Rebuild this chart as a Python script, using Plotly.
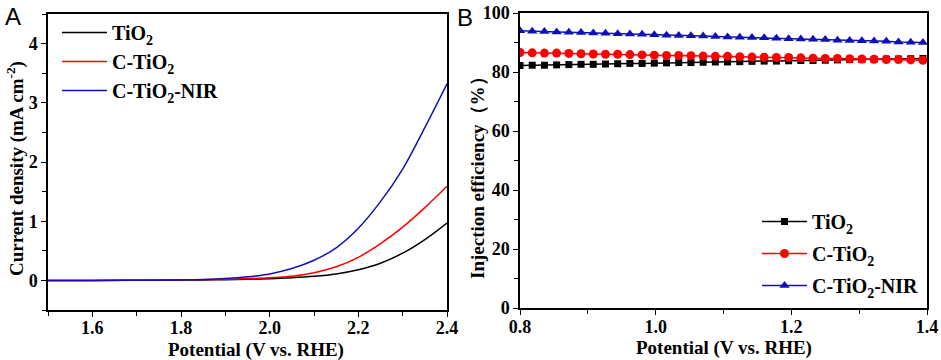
import plotly.graph_objects as go

# ---------- Panel A data ----------
potA = [1.50, 1.60, 1.70, 1.80, 1.85, 1.90, 1.95, 2.00, 2.05, 2.10, 2.15, 2.20, 2.25, 2.30, 2.35, 2.40]
j_tio2 = [0.0, 0.0, 0.003, 0.006, 0.008, 0.012, 0.018, 0.028, 0.045, 0.07, 0.11, 0.18, 0.29, 0.46, 0.69, 0.97]
j_ctio2 = [0.0, 0.0, 0.004, 0.008, 0.012, 0.02, 0.03, 0.045, 0.07, 0.13, 0.23, 0.39, 0.62, 0.90, 1.23, 1.59]
j_nir = [0.0, 0.0, 0.003, 0.008, 0.015, 0.03, 0.06, 0.11, 0.20, 0.34, 0.55, 0.88, 1.33, 1.88, 2.58, 3.32]

# ---------- Panel B data ----------
potB = [0.800, 0.818, 0.836, 0.854, 0.872, 0.890, 0.908, 0.926, 0.944, 0.962, 0.980, 0.998,
        1.016, 1.034, 1.052, 1.070, 1.088, 1.106, 1.124, 1.142, 1.160, 1.178, 1.196, 1.214,
        1.232, 1.250, 1.268, 1.286, 1.304, 1.322, 1.340, 1.358, 1.376, 1.394]
eff_tio2 = [82.2, 82.3, 82.3, 82.4, 82.5, 82.6, 82.6, 82.7, 82.8, 82.9, 82.9, 83.0, 83.1, 83.2, 83.2, 83.3, 83.4,
            83.4, 83.5, 83.6, 83.7, 83.7, 83.8, 83.9, 83.9, 84.0, 84.1, 84.2, 84.2, 84.3, 84.4, 84.4, 84.5, 84.6]
eff_ctio2 = [86.6, 86.5, 86.4, 86.4, 86.3, 86.2, 86.1, 86.0, 86.0, 85.9, 85.8, 85.7, 85.6, 85.6, 85.5, 85.4, 85.3,
             85.3, 85.2, 85.1, 85.0, 84.9, 84.9, 84.8, 84.7, 84.6, 84.6, 84.5, 84.4, 84.3, 84.2, 84.2, 84.1, 84.0]
eff_nir = [94.0, 93.8, 93.7, 93.6, 93.5, 93.4, 93.2, 93.1, 93.0, 92.9, 92.8, 92.6, 92.5, 92.4, 92.3, 92.2, 92.0,
           91.9, 91.8, 91.7, 91.6, 91.4, 91.3, 91.2, 91.1, 91.0, 90.8, 90.7, 90.6, 90.5, 90.4, 90.2, 90.1, 90.0]

names = ["TiO<sub>2</sub>", "C-TiO<sub>2</sub>", "C-TiO<sub>2</sub>-NIR"]
colors = ["#000000", "#ff0000", "#1010b8"]
symbols = ["square", "circle", "triangle-up"]
msizes = [7, 9, 9]

W, H = 941, 360
SERIF = "Liberation Serif"

fig = go.Figure()
for i, (name, ys, c) in enumerate(zip(names, [j_tio2, j_ctio2, j_nir], colors)):
    fig.add_trace(go.Scatter(x=potA, y=ys, mode="lines", name=name, legendgroup=f"a{i}",
                             line=dict(color=c, width=1.5, shape="spline", smoothing=1.0),
                             xaxis="x", yaxis="y", legend="legend"))
for i, (name, ys, c, s, ms) in enumerate(zip(names, [eff_tio2, eff_ctio2, eff_nir], colors, symbols, msizes)):
    fig.add_trace(go.Scatter(x=potB, y=ys, mode="lines+markers", name=name, legendgroup=f"b{i}",
                             line=dict(color=c, width=1.5),
                             marker=dict(symbol=s, size=ms, color=c),
                             xaxis="x2", yaxis="y2", legend="legend2"))

tickfont = dict(family=SERIF, size=18, color="black", weight="bold")
titlefont = dict(family=SERIF, size=19, color="black", weight="bold")


def ax(minor_dtick, **kw):
    d = dict(showline=True, linecolor="black", linewidth=1.5, mirror=True,
             ticks="outside", ticklen=5, tickwidth=1.2, tickcolor="black",
             showgrid=False, zeroline=False, tickfont=tickfont, automargin=False,
             minor=dict(ticks="outside", ticklen=4, tickwidth=1.2, tickcolor="black",
                        showgrid=False, dtick=minor_dtick))
    d.update(kw)
    return d


legfont = dict(family=SERIF, size=20, color="black", weight="bold")

fig.update_layout(
    width=W, height=H,
    margin=dict(l=0, r=0, t=0, b=0, autoexpand=False),
    paper_bgcolor="white", plot_bgcolor="white",
    xaxis=ax(0.1, domain=[48 / W, 447 / W], range=[1.5, 2.4], tick0=1.6, dtick=0.2,
             tickformat=".1f", anchor="y", ticklabelstandoff=-4),
    yaxis=ax(0.5, domain=[1 - 310 / H, 1 - 14 / H], range=[-0.5, 4.5], dtick=1, anchor="x"),
    xaxis2=ax(0.1, domain=[520 / W, 927 / W], range=[0.8, 1.4], tick0=0.8, dtick=0.2,
              tickformat=".1f", anchor="y2", ticklabelstandoff=-3),
    yaxis2=ax(10, domain=[1 - 308 / H, 1 - 13 / H], range=[0, 100], dtick=20, anchor="x2"),
    legend=dict(x=57 / W, y=1 - 13 / H, xanchor="left", yanchor="top", font=legfont,
                bgcolor="rgba(0,0,0,0)", borderwidth=0, itemwidth=45, tracegroupgap=0),
    legend2=dict(x=757 / W, y=1 - 202 / H, xanchor="left", yanchor="top", font=legfont,
                 bgcolor="rgba(0,0,0,0)", borderwidth=0, itemwidth=45, tracegroupgap=3),
    annotations=[
        dict(text="A", x=3 / W, y=1 - 1 / H, xref="paper", yref="paper", xanchor="left", yanchor="top",
             showarrow=False, font=dict(family="Liberation Sans", size=24, color="black")),
        dict(text="B", x=455 / W, y=1 - 2 / H, xref="paper", yref="paper", xanchor="left", yanchor="top",
             showarrow=False, font=dict(family="Liberation Sans", size=24, color="black")),
        dict(text="Potential (V vs. RHE)", x=256 / W, y=1 - 350 / H, xref="paper", yref="paper",
             xanchor="center", yanchor="middle", showarrow=False, font=titlefont),
        dict(text="Potential (V vs. RHE)", x=724 / W, y=1 - 348 / H, xref="paper", yref="paper",
             xanchor="center", yanchor="middle", showarrow=False, font=titlefont),
        dict(text="Current density (mA cm<sup>-2</sup>)", x=15 / W, y=1 - 169 / H, xref="paper", yref="paper",
             xanchor="center", yanchor="middle", textangle=-90, showarrow=False, font=titlefont),
        dict(text="Injection efficiency（%）", x=477 / W, y=1 - 173 / H, xref="paper", yref="paper",
             xanchor="center", yanchor="middle", textangle=-90, showarrow=False, font=titlefont),
    ],
)

fig.write_html("out.html", config={"displayModeBar": False},
               post_script="document.body.style.margin='0px';")
